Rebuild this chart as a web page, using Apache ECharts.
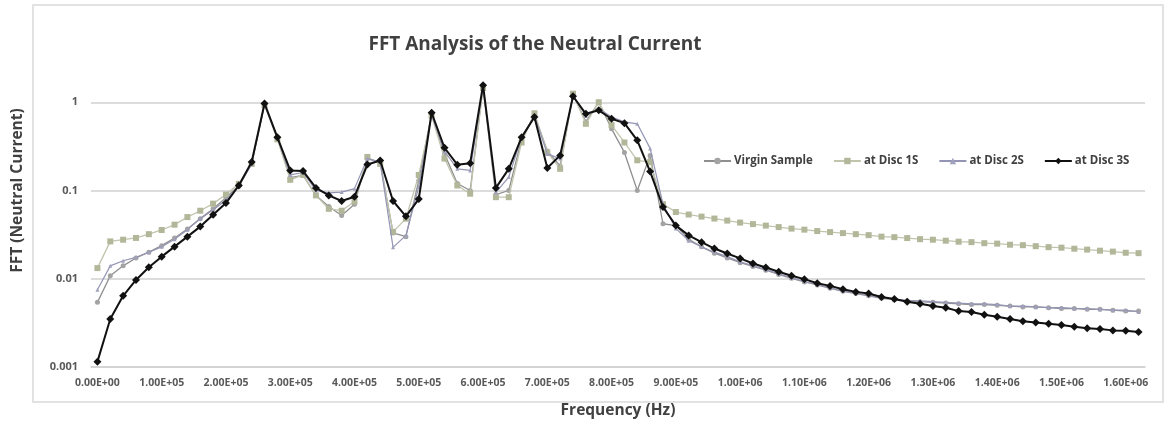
<!DOCTYPE html>
<html>
<head>
<meta charset="utf-8">
<script src="https://cdn.jsdelivr.net/npm/echarts@6/dist/echarts.min.js"></script>
<style>
  html, body { margin: 0; padding: 0; background: #fff; }
  #chart-container { width: 1167px; height: 430px; }
</style>
</head>
<body>
<div id="chart-container"></div>
<script>
// frequency (Hz), one point every 2E4
const freq = [
  0, 20000, 40000, 60000, 80000, 100000, 120000, 140000, 160000, 180000,
  200000, 220000, 240000, 260000, 280000, 300000, 320000, 340000, 360000, 380000,
  400000, 420000, 440000, 460000, 480000, 500000, 520000, 540000, 560000, 580000,
  600000, 620000, 640000, 660000, 680000, 700000, 720000, 740000, 760000, 780000,
  800000, 820000, 840000, 860000, 880000, 900000, 920000, 940000, 960000, 980000,
  1000000, 1020000, 1040000, 1060000, 1080000, 1100000, 1120000, 1140000, 1160000, 1180000,
  1200000, 1220000, 1240000, 1260000, 1280000, 1300000, 1320000, 1340000, 1360000, 1380000,
  1400000, 1420000, 1440000, 1460000, 1480000, 1500000, 1520000, 1540000, 1560000, 1580000,
  1600000, 1620000
]

const virgin = [
  0.0054, 0.0108, 0.014, 0.0172, 0.020, 0.0237, 0.029, 0.0367, 0.048, 0.062, 0.083, 0.114,
  0.20, 0.95, 0.39, 0.14, 0.148, 0.088, 0.066, 0.052, 0.07, 0.23, 0.21, 0.033, 0.030, 0.13,
  0.74, 0.26, 0.12, 0.10, 1.5, 0.09, 0.10, 0.38, 0.72, 0.28, 0.19, 1.22, 0.60, 1.0, 0.50,
  0.27, 0.10, 0.25, 0.042, 0.040,
  0.028, 0.023, 0.0195, 0.0172, 0.0152, 0.0138, 0.0125, 0.0112, 0.0101, 0.0092, 0.0085, 0.0078,
  0.0072, 0.0068, 0.0064, 0.006, 0.0058, 0.0056, 0.0055, 0.0054, 0.0053, 0.0052, 0.0051, 0.0051,
  0.005, 0.0049, 0.0048, 0.0048, 0.0047, 0.0046, 0.0046, 0.0045, 0.0045, 0.0044, 0.0043, 0.0043
]

const disc1 = [
  0.0132, 0.0265, 0.0277, 0.029, 0.032, 0.0357, 0.041, 0.050, 0.059, 0.071, 0.090, 0.119,
  0.20, 0.93, 0.38, 0.132, 0.15, 0.088, 0.062, 0.059, 0.075, 0.24, 0.20, 0.034, 0.048, 0.15,
  0.70, 0.23, 0.114, 0.092, 1.45, 0.084, 0.084, 0.35, 0.75, 0.27, 0.176, 1.25, 0.57, 1.0, 0.55,
  0.35, 0.22, 0.21, 0.07, 0.057,
  0.0534, 0.0506, 0.0481, 0.0456, 0.0433, 0.0416, 0.040, 0.0385, 0.037, 0.036, 0.0347, 0.0338,
  0.0329, 0.032, 0.0312, 0.030, 0.0296, 0.0289, 0.0281, 0.0277, 0.027, 0.0263, 0.026, 0.0253,
  0.025, 0.0243, 0.024, 0.0234, 0.0228, 0.0225, 0.0219, 0.0214, 0.0208, 0.0203, 0.0197, 0.0195
]

const disc2 = [
  0.0075, 0.014, 0.016, 0.0175, 0.020, 0.023, 0.028, 0.036, 0.048, 0.060, 0.078, 0.111,
  0.20, 0.95, 0.40, 0.15, 0.16, 0.10, 0.094, 0.096, 0.105, 0.23, 0.21, 0.0227, 0.031, 0.11,
  0.72, 0.28, 0.176, 0.169, 1.5, 0.095, 0.142, 0.40, 0.70, 0.26, 0.23, 1.2, 0.70, 0.85, 0.68,
  0.60, 0.57, 0.30, 0.07, 0.037,
  0.027, 0.023, 0.020, 0.0178, 0.0156, 0.0141, 0.0127, 0.0114, 0.0103, 0.0093, 0.0086, 0.0079,
  0.0073, 0.0069, 0.0065, 0.0061, 0.0059, 0.0057, 0.0056, 0.0055, 0.0054, 0.0053, 0.0052, 0.0052,
  0.0051, 0.0049, 0.0049, 0.0048, 0.0047, 0.0047, 0.0046, 0.0046, 0.0045, 0.0044, 0.0044, 0.0042
]

const disc3 = [
  0.00115, 0.0035, 0.0064, 0.0097, 0.0135, 0.0178, 0.0231, 0.030, 0.039, 0.053, 0.072, 0.114,
  0.21, 0.97, 0.40, 0.169, 0.166, 0.107, 0.088, 0.076, 0.085, 0.197, 0.219, 0.076, 0.051, 0.080,
  0.76, 0.305, 0.196, 0.204, 1.56, 0.107, 0.176, 0.40, 0.68, 0.18, 0.25, 1.17, 0.74, 0.81, 0.65,
  0.58, 0.37, 0.164, 0.065, 0.040,
  0.031, 0.026, 0.022, 0.0193, 0.017, 0.0149, 0.0134, 0.012, 0.0108, 0.0099, 0.0089, 0.0083,
  0.0076, 0.0071, 0.0068, 0.0062, 0.0059, 0.0055, 0.0052, 0.0049, 0.0047, 0.0043, 0.0042, 0.0039,
  0.0037, 0.0035, 0.0033, 0.0032, 0.0031, 0.0030, 0.00285, 0.00275, 0.0027, 0.0026, 0.00257, 0.0025
]

const yTicks = { '-3': '0.001', '-2': '0.01', '-1': '0.1', '0': '1' }

const font = '"Open Sans"'

const sciLabel = v => {
  const [m, e] = Number(v).toExponential(2).toUpperCase().split('E')
  const sign = e[0] === '-' ? '-' : '+'
  const digits = e.replace(/[+-]/, '').padStart(2, '0')
  return m + 'E' + sign + digits
}

const dom = document.getElementById('chart-container')
const myChart = echarts.init(dom, null, { renderer: 'canvas' })

const options = {
  animation: false,
  textStyle: { fontFamily: font },
  graphic: [
    {
      type: 'rect',
      shape: { x: 33, y: 5, width: 1130, height: 397 },
      style: { fill: 'none', stroke: '#d9d9d9', lineWidth: 1.5 },
      silent: true
    },
    {
      type: 'text',
      x: 535,
      y: 45,
      style: {
        text: 'FFT Analysis of the Neutral Current',
        fill: '#404040',
        font: 'bold 19px ' + font,
        textAlign: 'center',
        textVerticalAlign: 'middle'
      }
    }
  ],
  legend: {
    left: 698,
    top: 150,
    itemWidth: 27,
    itemHeight: 8,
    itemGap: 20,
    textStyle: { fontFamily: font, fontSize: 11.5, fontWeight: 'bold', color: '#404040', padding: [0, 0, 0, -2] },
    data: ['Virgin Sample', 'at Disc 1S', 'at Disc 2S', 'at Disc 3S']
  },
  grid: { left: 91, right: 22, top: 14, bottom: 63 },
  xAxis: {
    type: 'category',
    data: freq,
    boundaryGap: true,
    name: 'Frequency (Hz)',
    nameLocation: 'middle',
    nameGap: 36,
    nameTextStyle: { fontFamily: font, fontSize: 15.5, fontWeight: 'bold', color: '#404040' },
    axisLine: { lineStyle: { color: '#d0d0d0', width: 1.5 } },
    axisTick: { show: false },
    axisLabel: {
      interval: 4,
      margin: 11,
      fontSize: 10.5,
      fontWeight: 'bold',
      color: '#595959',
      formatter: sciLabel
    },
    splitLine: { show: false }
  },
  yAxis: {
    type: 'log',
    logBase: 10,
    min: 0.001,
    max: 10,
    name: 'FFT (Neutral Current)',
    nameLocation: 'middle',
    nameGap: 65,
    nameTextStyle: { fontFamily: font, fontSize: 15.5, fontWeight: 'bold', color: '#404040' },
    axisLine: { show: false },
    axisTick: { show: false },
    axisLabel: {
      margin: 13,
      fontSize: 11,
      fontWeight: 'bold',
      color: '#595959',
      formatter: v => yTicks[String(Math.round(Math.log10(v)))] || ''
    },
    splitLine: {
      show: true,
      showMaxLine: false,
      lineStyle: { color: ['#d0d0d0', '#d0d0d0', '#d0d0d0', '#d0d0d0', 'rgba(0,0,0,0)'], width: 1.5 }
    }
  },
  series: [
    {
      name: 'Virgin Sample',
      type: 'line',
      data: virgin,
      color: '#8f8f8f',
      lineStyle: { width: 1.3, color: '#8f8f8f' },
      symbol: 'circle',
      symbolSize: 5,
      itemStyle: { color: '#a3a3a3' },
      z: 2
    },
    {
      name: 'at Disc 1S',
      type: 'line',
      data: disc1,
      color: '#bcc0a4',
      lineStyle: { width: 1.3, color: '#c2c5ae' },
      symbol: 'rect',
      symbolSize: 6,
      itemStyle: { color: '#b3b79a' },
      z: 3
    },
    {
      name: 'at Disc 2S',
      type: 'line',
      data: disc2,
      color: '#9495b5',
      lineStyle: { width: 1.2, color: '#9495b5' },
      symbol: 'triangle',
      symbolSize: 4,
      itemStyle: { color: '#a0a1bd' },
      z: 4
    },
    {
      name: 'at Disc 3S',
      type: 'line',
      data: disc3,
      color: '#111',
      lineStyle: { width: 2, color: '#111' },
      symbol: 'diamond',
      symbolSize: 8,
      itemStyle: { color: '#111' },
      z: 5
    }
  ]
}

myChart.setOption(options)

window.addEventListener('resize', myChart.resize)
</script>
</body>
</html>
